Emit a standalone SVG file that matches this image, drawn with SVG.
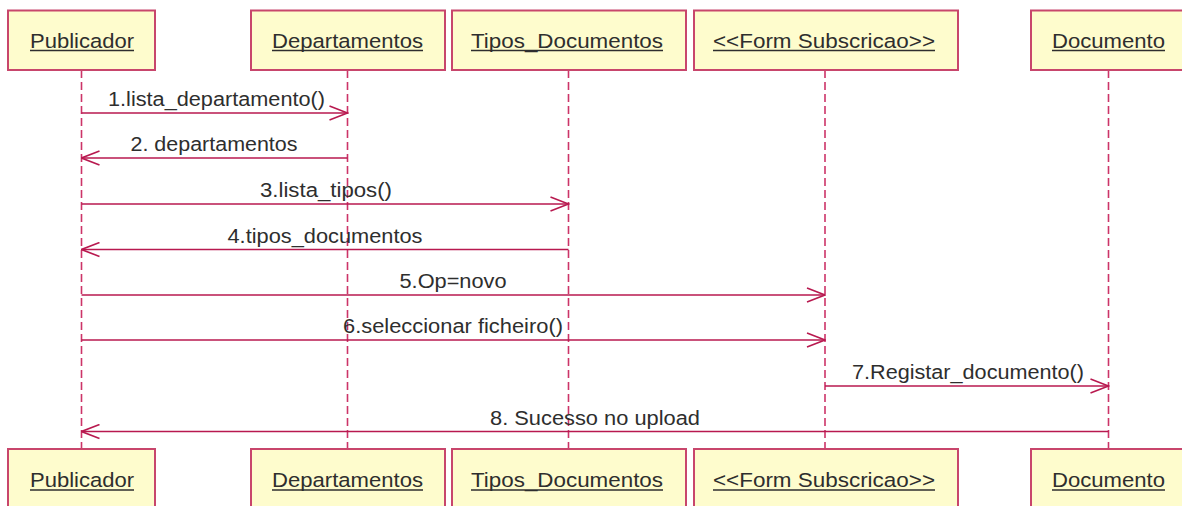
<svg xmlns="http://www.w3.org/2000/svg" width="1182" height="506" viewBox="0 0 1182 506">
<style>
.box{fill:#fefccd;stroke:#c8466c;stroke-width:2}
.lbl{font-family:"Liberation Sans",Arial,sans-serif;font-size:20.5px;fill:#2e2e2e;text-anchor:middle}
.ul{stroke:#2e2e2e;stroke-width:1.4}
.life{stroke:#cc3468;stroke-width:1.6;stroke-dasharray:8 4;fill:none}
.msg{stroke:#b8194f;stroke-width:1.6;fill:none;marker-end:url(#open)}
.mt{font-family:"Liberation Sans",Arial,sans-serif;font-size:19.5px;fill:#2e2e2e;text-anchor:middle}
</style>
<defs>
<marker id="open" markerUnits="userSpaceOnUse" viewBox="0 0 20 16" refX="19" refY="8" markerWidth="20" markerHeight="16" orient="auto">
<path d="M1,1 L19,8 L1,15" fill="none" stroke="#b8194f" stroke-width="1.6"/>
</marker>
</defs>
<rect width="1182" height="506" fill="#ffffff"/>
<g id="lifelines">
<line class="life" x1="81.5" y1="70" x2="81.5" y2="449"/>
<line class="life" x1="347.5" y1="70" x2="347.5" y2="449"/>
<line class="life" x1="568.5" y1="70" x2="568.5" y2="449"/>
<line class="life" x1="825" y1="70" x2="825" y2="449"/>
<line class="life" x1="1108.5" y1="70" x2="1108.5" y2="449"/>
</g>
<g id="node-publicador">
<rect class="box" x="8" y="10.5" width="147" height="59.5"/>
<text class="lbl" x="82" y="47.5" textLength="104" lengthAdjust="spacingAndGlyphs">Publicador</text>
<line class="ul" x1="30" y1="50.5" x2="134" y2="50.5"/>
</g>
<g id="node-departamentos">
<rect class="box" x="251" y="10.5" width="194" height="59.5"/>
<text class="lbl" x="347.5" y="47.5" textLength="151" lengthAdjust="spacingAndGlyphs">Departamentos</text>
<line class="ul" x1="272" y1="50.5" x2="423" y2="50.5"/>
</g>
<g id="node-tipos">
<rect class="box" x="452" y="10.5" width="234" height="59.5"/>
<text class="lbl" x="567" y="47.5" textLength="192" lengthAdjust="spacingAndGlyphs">Tipos_Documentos</text>
<line class="ul" x1="471" y1="50.5" x2="663" y2="50.5"/>
</g>
<g id="node-form">
<rect class="box" x="694" y="10.5" width="264" height="59.5"/>
<text class="lbl" x="824" y="47.5" textLength="222" lengthAdjust="spacingAndGlyphs">&lt;&lt;Form Subscricao&gt;&gt;</text>
<line class="ul" x1="713" y1="50.5" x2="935" y2="50.5"/>
</g>
<g id="node-documento">
<rect class="box" x="1031" y="10.5" width="156" height="59.5"/>
<text class="lbl" x="1108.5" y="47.5" textLength="113" lengthAdjust="spacingAndGlyphs">Documento</text>
<line class="ul" x1="1052" y1="50.5" x2="1165" y2="50.5"/>
</g>
<g id="node-publicador-bottom">
<rect class="box" x="8" y="449" width="147" height="62"/>
<text class="lbl" x="82" y="487" textLength="104" lengthAdjust="spacingAndGlyphs">Publicador</text>
<line class="ul" x1="30" y1="490" x2="134" y2="490"/>
</g>
<g id="node-departamentos-bottom">
<rect class="box" x="251" y="449" width="194" height="62"/>
<text class="lbl" x="347.5" y="487" textLength="151" lengthAdjust="spacingAndGlyphs">Departamentos</text>
<line class="ul" x1="272" y1="490" x2="423" y2="490"/>
</g>
<g id="node-tipos-bottom">
<rect class="box" x="452" y="449" width="234" height="62"/>
<text class="lbl" x="567" y="487" textLength="192" lengthAdjust="spacingAndGlyphs">Tipos_Documentos</text>
<line class="ul" x1="471" y1="490" x2="663" y2="490"/>
</g>
<g id="node-form-bottom">
<rect class="box" x="694" y="449" width="264" height="62"/>
<text class="lbl" x="824" y="487" textLength="222" lengthAdjust="spacingAndGlyphs">&lt;&lt;Form Subscricao&gt;&gt;</text>
<line class="ul" x1="713" y1="490" x2="935" y2="490"/>
</g>
<g id="node-documento-bottom">
<rect class="box" x="1031" y="449" width="156" height="62"/>
<text class="lbl" x="1108.5" y="487" textLength="113" lengthAdjust="spacingAndGlyphs">Documento</text>
<line class="ul" x1="1052" y1="490" x2="1165" y2="490"/>
</g>
<g id="connectors">
<line class="msg" x1="81.5" y1="113" x2="347.5" y2="113"/>
<text class="mt" x="216.5" y="106" textLength="217" lengthAdjust="spacingAndGlyphs">1.lista_departamento()</text>
<line class="msg" x1="347.5" y1="158" x2="81.5" y2="158"/>
<text class="mt" x="214" y="151" textLength="167" lengthAdjust="spacingAndGlyphs">2. departamentos</text>
<line class="msg" x1="81.5" y1="204" x2="568.5" y2="204"/>
<text class="mt" x="326" y="197" textLength="132" lengthAdjust="spacingAndGlyphs">3.lista_tipos()</text>
<line class="msg" x1="568.5" y1="249.5" x2="81.5" y2="249.5"/>
<text class="mt" x="325" y="242.5" textLength="195" lengthAdjust="spacingAndGlyphs">4.tipos_documentos</text>
<line class="msg" x1="81.5" y1="295" x2="825" y2="295"/>
<text class="mt" x="453" y="288" textLength="107" lengthAdjust="spacingAndGlyphs">5.Op=novo</text>
<line class="msg" x1="81.5" y1="340" x2="825" y2="340"/>
<text class="mt" x="453" y="333" textLength="220" lengthAdjust="spacingAndGlyphs">6.seleccionar ficheiro()</text>
<line class="msg" x1="825" y1="386" x2="1108.5" y2="386"/>
<text class="mt" x="968" y="379" textLength="232" lengthAdjust="spacingAndGlyphs">7.Registar_documento()</text>
<line class="msg" x1="1108.5" y1="431.5" x2="81.5" y2="431.5"/>
<text class="mt" x="595" y="424.5" textLength="210" lengthAdjust="spacingAndGlyphs">8. Sucesso no upload</text>
</g>
</svg>
